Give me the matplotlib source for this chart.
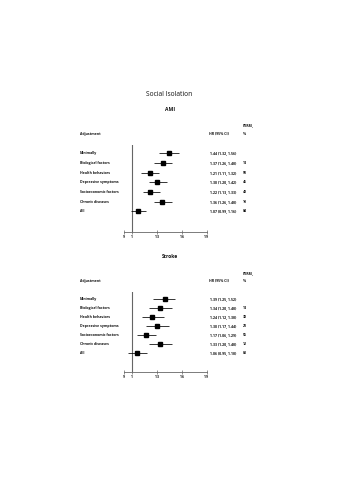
import numpy as np
import matplotlib
matplotlib.use('Agg')
import matplotlib.pyplot as plt
from matplotlib.transforms import blended_transform_factory

plt.rcParams['font.family'] = ['Open Sans', 'DejaVu Sans']

adjustments = ['Minimally', 'Biological factors', 'Health behaviors', 'Depressive symptoms',
               'Socioeconomic factors', 'Chronic diseases', 'All']

# AMI
ami_hr = [1.44, 1.37, 1.21, 1.30, 1.22, 1.36, 1.07]
ami_lo = [1.32, 1.26, 1.11, 1.20, 1.13, 1.26, 0.99]
ami_hi = [1.56, 1.48, 1.32, 1.42, 1.33, 1.48, 1.16]
ami_perm = ['', '14', '50', '46', '48', '18', '84']

# Stroke
stroke_hr = [1.39, 1.34, 1.24, 1.30, 1.17, 1.33, 1.06]
stroke_lo = [1.25, 1.20, 1.12, 1.17, 1.06, 1.20, 0.95]
stroke_hi = [1.52, 1.48, 1.38, 1.44, 1.29, 1.48, 1.18]
stroke_perm = ['', '14', '38', '23', '55', '12', '83']

xticks = [0.9, 1, 1.3, 1.6, 1.9]
xticklabels = ['.9', '1', '1.3', '1.6', '1.9']

W, H = 339, 480
fig = plt.figure(figsize=(W / 100, H / 100), dpi=100)

def fx(x):
    return x / W

def fy(y):
    return 1 - y / H

txt = '#111111'
fs = 2.5

fig.text(fx(169.5), fy(95), 'Social Isolation', ha='center', va='center', fontsize=4.8, color=txt)


def panel(name, name_y, hr, lo, hi, perm, row0, step, axis_y, line_top):
    fig.text(fx(170), fy(name_y), name, ha='center', va='center', fontsize=3.6,
             fontweight='bold', color=txt)
    head_y = name_y + 24.5
    fig.text(fx(243), fy(head_y - 8.3), 'PERM,', ha='left', va='center', fontsize=fs,
             fontweight='bold', color=txt)
    fig.text(fx(243), fy(head_y), '%', ha='left', va='center', fontsize=fs,
             fontweight='bold', color=txt)
    fig.text(fx(80), fy(head_y), 'Adjustment', ha='left', va='center', fontsize=fs,
             fontweight='bold', color=txt)
    fig.text(fx(209), fy(head_y), 'HR (95% CI)', ha='left', va='center', fontsize=fs,
             fontweight='bold', color=txt)

    left, right = 124, 206.7
    ax = fig.add_axes([fx(left), fy(axis_y), fx(right - left), (axis_y - line_top) / H])
    ax.set_xlim(0.9, 1.9)
    ax.set_ylim((axis_y - row0) / step, (line_top - row0) / step)
    ax.patch.set_alpha(0)

    rows = np.arange(len(hr))
    hr = np.array(hr)
    lo = np.array(lo)
    hi = np.array(hi)
    ax.axvline(1, color='#666666', lw=0.8, zorder=1)
    ax.errorbar(hr, rows, xerr=[hr - lo, hi - hr], fmt='s', color='black', ms=3.2,
                elinewidth=0.55, capsize=0, zorder=3, clip_on=False)

    for s in ['top', 'right', 'left']:
        ax.spines[s].set_visible(False)
    ax.spines['bottom'].set_color('#666666')
    ax.spines['bottom'].set_linewidth(0.6)
    ax.set_yticks([])
    ax.set_xticks(xticks)
    ax.set_xticklabels(xticklabels, fontweight='bold')
    ax.tick_params(axis='x', direction='inout', length=2.2, width=0.5, color='#666666',
                   labelsize=fs, pad=1.2, labelcolor=txt)

    tr = blended_transform_factory(fig.transFigure, ax.transData)
    for i in rows:
        ax.text(fx(80), i, adjustments[i], transform=tr, ha='left', va='center',
                fontsize=fs, fontweight='bold', color=txt)
        ax.text(fx(210), i, '%.2f (%.2f, %.2f)' % (hr[i], lo[i], hi[i]), transform=tr,
                ha='left', va='center', fontsize=fs, fontweight='bold', color=txt)
        ax.text(fx(243), i, perm[i], transform=tr, ha='left', va='center',
                fontsize=fs, fontweight='bold', color=txt)


panel('AMI', 109.3, ami_hr, ami_lo, ami_hi, ami_perm, 153.3, 9.67, 231.7, 145)
panel('Stroke', 256.7, stroke_hr, stroke_lo, stroke_hi, stroke_perm, 299, 8.94, 371.7, 291.7)

fig.savefig('out.png', dpi=100)
